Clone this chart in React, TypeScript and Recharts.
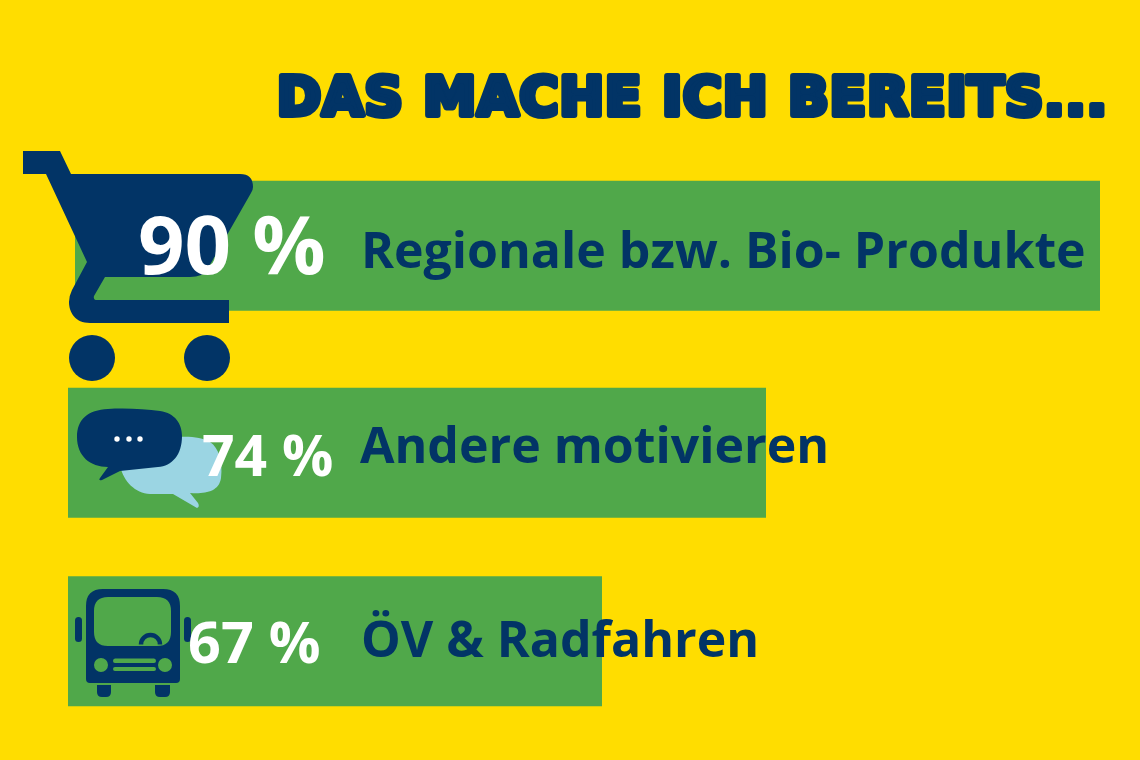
import React from 'react';
import { Bar, BarChart, LabelList, Rectangle, XAxis, YAxis } from 'recharts';

const NAVY = '#023466';
const GREEN = '#50A84A';
const YELLOW = '#FFDD00';
const LIGHT_BLUE = '#9BD5E3';

const TITLE = 'DAS MACHE ICH BEREITS...';
const categories = ['Regionale bzw. Bio- Produkte', 'Andere motivieren', 'ÖV & Radfahren'];
const percents = [90, 74, 67];
// drawn bar extents and row centres (the bars are not to scale)
const barStarts = [7.5, 6.8, 6.8];
const barEnds = [110, 76.6, 60.2];
const rows = [24.6, 45.3, 64.15];

const data = categories.map((name, i) => ({
  name,
  percent: percents[i],
  span: [barStarts[i], barEnds[i]],
  row: rows[i]
}));

const percentStyle = [
  { dx: 63, dy: 93, fontSize: 81.5 },
  { dx: 134, dy: 88, fontSize: 57 },
  { dx: 120, dy: 87, fontSize: 57.5 }
];
const nameStyle = [
  { dx: 286, dy: 87, fontSize: 50 },
  { dx: 292, dy: 75, fontSize: 50 },
  { dx: 293, dy: 81, fontSize: 50 }
];

const CartIcon = () => (
  <g fill={NAVY}>
    <path d="M23 151H60L71 174H240Q253 174 253 187Q253 190 251 193L207 270Q203 277 190 277H105L94 296Q93 300 97 300H229V323H90C75 323 69 312 69 302Q69 296 72 290L87 262L46 174H23Z" />
    <circle cx={92} cy={358} r={23} />
    <circle cx={207} cy={358} r={23} />
  </g>
);

const BubblesIcon = () => (
  <g>
    <path
      fill={LIGHT_BLUE}
      d="M120 466C124 482 135 493 150 494L173 494L197 508Q200 507 198 503L190 493C205 494 219 492 221 478C223 462 219 448 210 442C202 437 190 436 175 437Z"
    />
    <path
      fill={NAVY}
      d="M77 437C77 419 88 410 108 409C125 408 145 409 160 411C175 413 182 424 182 436C182 455 172 466 158 467L120 471L102 480Q98 481 100 478L108 467C90 467 77 456 77 437Z"
    />
    <g fill="#FFFFFF">
      <circle cx={117} cy={439} r={2.7} />
      <circle cx={129} cy={439} r={2.7} />
      <circle cx={140} cy={439} r={2.7} />
    </g>
  </g>
);

const BusIcon = () => (
  <g fill={NAVY}>
    <path
      fillRule="evenodd"
      d="M103 589H163Q180 589 180 606V679Q180 683 176 683H90Q86 683 86 679V606Q86 589 103 589ZM108 597Q94 597 94 611V632Q94 646 108 646H157Q171 646 171 632V611Q171 597 157 597ZM101 658A7 7 0 1 0 101 672A7 7 0 1 0 101 658ZM165 658A7 7 0 1 0 165 672A7 7 0 1 0 165 658ZM115 658.5Q113 658.5 113 661Q113 663 115 663H154Q156 663 156 661Q156 658.5 154 658.5ZM115 667Q113 667 113 669Q113 671 115 671H154Q156 671 156 669Q156 667 154 667Z"
    />
    <rect x={75} y={617} width={7} height={25} rx={3.5} />
    <rect x={184} y={617} width={7} height={25} rx={3.5} />
    <path d="M97 685H111V692Q111 697 106 697H102Q97 697 97 692Z" />
    <path d="M155 685H170V692Q170 697 165 697H160Q155 697 155 692Z" />
    <path d="M141 644.5A9.5 9.5 0 0 1 160 644.5" fill="none" stroke={NAVY} strokeWidth={4.5} />
  </g>
);

const icons = [CartIcon, BubblesIcon, BusIcon];

// the bar plus its pictogram, so the labels stay on top of both
const BarWithIcon = (props: any) => {
  const Icon = icons[rows.indexOf(props.row)];
  return (
    <g>
      <Rectangle x={props.x} y={props.y} width={props.width} height={props.height} fill={GREEN} />
      <Icon />
    </g>
  );
};

const PercentLabel = (props: any) => {
  const s = percentStyle[percents.indexOf(props.value)];
  return (
    <text x={props.x + s.dx} y={props.y + s.dy} fontSize={s.fontSize} fontWeight={700} fill="#FFFFFF">
      {props.value} %
    </text>
  );
};

const NameLabel = (props: any) => {
  const s = nameStyle[categories.indexOf(props.value)];
  return (
    <text x={props.x + s.dx} y={props.y + s.dy} fontSize={s.fontSize} fontWeight={700} fill={NAVY}>
      {props.value}
    </text>
  );
};

export default function App() {
  return (
    <div
      style={{
        position: 'absolute',
        left: 0,
        top: 0,
        width: 1140,
        height: 760,
        background: YELLOW,
        fontFamily: '"Open Sans", sans-serif'
      }}
    >
      <BarChart width={1140} height={760} data={data} layout="vertical" margin={{ top: 0, right: 0, bottom: 0, left: 0 }}>
        <XAxis type="number" domain={[0, 114]} hide />
        <YAxis type="number" dataKey="row" domain={[0, 76]} hide />
        <text
          x={277}
          y={115}
          fontFamily="DejaVu Sans"
          fontSize={53}
          fontWeight={700}
          fill={NAVY}
          stroke={NAVY}
          strokeWidth={6}
          strokeLinejoin="round"
          textLength={830}
          lengthAdjust="spacing"
        >
          {TITLE}
        </text>
        <Bar dataKey="span" barSize={130} shape={BarWithIcon} isAnimationActive={false}>
          <LabelList dataKey="percent" content={PercentLabel} />
          <LabelList dataKey="name" content={NameLabel} />
        </Bar>
      </BarChart>
    </div>
  );
}
